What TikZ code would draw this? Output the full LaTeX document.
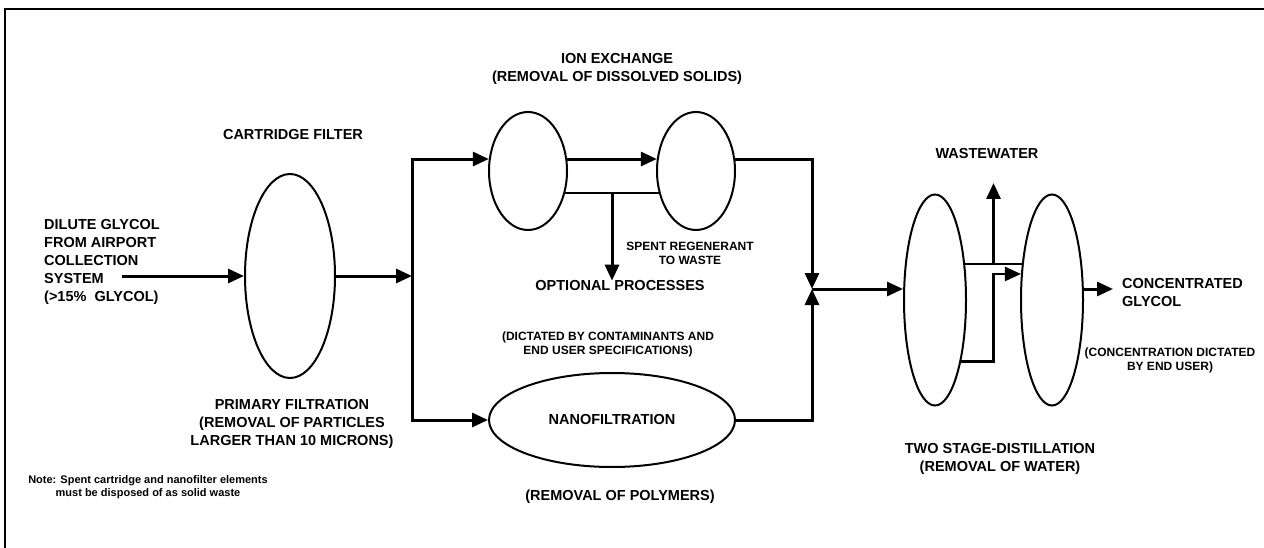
\documentclass[tikz,border=0pt]{standalone}
\usepackage{fontspec}
\setmainfont{Liberation Sans}
\usepackage{tikz}
\usetikzlibrary{arrows.meta,shapes.geometric,calc}
\tikzset{>={Triangle[length=16pt,width=14pt]}}
\tikzset{
  vessel/.style={draw, ellipse, line width=2pt, inner sep=0pt},
  flow/.style={line width=3pt},
  link/.style={line width=2.3pt},
  lbl/.style={font=\fontsize{14.5}{18}\selectfont\bfseries, align=center, inner sep=0pt},
  small/.style={font=\fontsize{12}{14}\selectfont\bfseries, align=center, inner sep=0pt},
}

\begin{document}
\begin{tikzpicture}[x=1pt, y=-1pt]
  \useasboundingbox (0,0) rectangle (1264,548);
  \draw[line width=1.3pt] (1264,9) -- (5,9) -- (5,548);

  \node[vessel, minimum width=90pt, minimum height=204pt] (cf) at (290,276) {};
  \node[vessel, minimum width=78pt, minimum height=118pt] (ix1) at (528,171) {};
  \node[vessel, minimum width=78pt, minimum height=118pt] (ix2) at (696,171) {};
  \node[vessel, lbl, minimum width=246pt, minimum height=94pt] (nf) at (612,420) {NANOFILTRATION};
  \node[vessel, minimum width=62pt, minimum height=211pt] (ds1) at (935,300) {};
  \node[vessel, minimum width=62pt, minimum height=211pt] (ds2) at (1052,300) {};

  \node[lbl, align=left, anchor=west] (feed) at (44,262) {DILUTE GLYCOL\\FROM AIRPORT\\COLLECTION\\SYSTEM\\(>15\%\ \ GLYCOL)};
  \node[lbl] (cfname) at (293,135) {CARTRIDGE FILTER};
  \node[lbl] (cfnote) at (292,424) {PRIMARY FILTRATION\\(REMOVAL OF PARTICLES\\LARGER THAN 10 MICRONS)};
  \node[lbl] (ixname) at (617,69) {ION EXCHANGE\\(REMOVAL OF DISSOLVED SOLIDS)};
  \node[small] (spent) at (690,253) {SPENT REGENERANT\\TO WASTE};
  \node[lbl] (opt) at (620,286) {OPTIONAL PROCESSES};
  \node[small] (dictate) at (608,344) {(DICTATED BY CONTAMINANTS AND\\END USER SPECIFICATIONS)};
  \node[lbl] (nfnote) at (620,497) {(REMOVAL OF POLYMERS)};
  \node[lbl] (ww) at (987,154) {WASTEWATER};
  \node[lbl, align=left, anchor=west, inner xsep=9pt] (conc) at (1113,293) {CONCENTRATED\\GLYCOL};
  \node[small] (concnote) at (1170,360) {(CONCENTRATION DICTATED\\BY END USER)};
  \node[lbl] (dsnote) at (1000,459) {TWO STAGE-DISTILLATION\\(REMOVAL OF WATER)};
  \node[font=\fontsize{11}{13}\selectfont\bfseries, align=center, inner sep=0pt] (note) at (148,487) {Note: Spent cartridge and nanofilter elements\\must be disposed of as solid waste};

  \coordinate (src) at (122,276);
  \coordinate (split) at (412,276);
  \coordinate (join) at (812,289);
  \coordinate (regen) at ($(ix1.-31)!0.5!(ix2.-149)$);
  \coordinate (wmid) at ($(ds1.50)!0.5!(ds2.130)$);
  \coordinate (vent) at (wmid |- 0,183);
  \coordinate (jog) at (wmid |- ds2.140);

  \draw[flow, ->] (src) -- (cf.west |- src);
  \draw[flow, ->] (cf.east |- split) -- (split);
  \draw[flow, ->] (split) |- (ix1.163);
  \draw[flow, ->] (split) |- (nf.west);
  \draw[flow, ->] (ix1.17) -- (ix2.163);
  \draw[link] (ix1.-31) -- (ix2.-149);
  \draw[flow, ->] (regen) -- (regen |- opt.north);
  \draw[flow, ->] (ix2.17) -| (join);
  \draw[flow, ->] (nf.east) -| (join);
  \draw[flow, ->] (join) -- (join -| ds1.west);
  \draw[link] (ds1.50) -- (ds2.130);
  \draw[flow, ->] (wmid) -- (vent);
  \draw[link, ->] (ds1.-67) -| (jog) -- (ds2.140);
  \draw[flow, ->] (ds2.east |- join) -- (conc.west |- join);
\end{tikzpicture}
\end{document}
